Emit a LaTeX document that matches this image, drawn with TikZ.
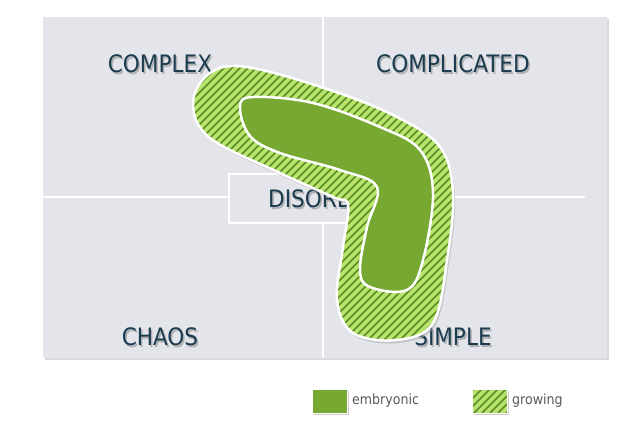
\documentclass[tikz,border=0pt]{standalone}
\usepackage{fontspec}
\setmainfont{DejaVu Sans Condensed}
\begin{document}
\begin{tikzpicture}[x=1pt,y=-1pt,
  lbl/.style={text=txt,font=\fontsize{24}{24}\selectfont,inner sep=0},
  lblsh/.style={text=black!45,font=\fontsize{24}{24}\selectfont,inner sep=0,opacity=0.6},
  leg/.style={text=black!65,font=\fontsize{14}{14}\selectfont,anchor=west,inner sep=0}]
\definecolor{panel}{HTML}{E3E5EA}
\definecolor{txt}{HTML}{1B3B4F}
\definecolor{gdark}{HTML}{76A832}
\definecolor{glight}{HTML}{B8E46C}
\definecolor{gstripe}{HTML}{5C8C28}
\useasboundingbox (0,0) rectangle (631,424);
\fill[white] (0,0) rectangle (631,424);
% panel
\fill[black!15] (45,19) rectangle (609,360);
\fill[panel] (43,17) rectangle (607,358);
\draw[white,line width=2] (323,17) -- (323,358);
\draw[white,line width=2] (43,197) -- (585,197);
\node[draw=white,line width=2,fill=panel,minimum width=122,minimum height=49,anchor=north west] (dis) at (228,173) {};
% labels
\foreach \n/\t/\x/\y in {cx/COMPLEX/160/64, cd/COMPLICATED/453/64, ch/CHAOS/160/337, si/SIMPLE/453/337}{
  \node[lblsh] at (\x+1.5,\y+1.5) {\t};
  \node[lbl] (\n) at (\x,\y) {\t};
}
\node[lblsh,anchor=west] at (269.5,200.5) {DISORDER};
\node[lbl,anchor=west] (do) at (268,199) {DISORDER};
% boomerang outer
\def\outerpath{plot[smooth cycle,tension=0.6] coordinates {(193,103) (210,73) (247,67) (330,90) (397,117) (440,147) (453,193) (447,260) (433,323) (397,340) (353,333) (337,300) (343,247) (348,205) (333,197) (280,173) (210,138)}}
\fill[black!35,opacity=0.5,shift={(2,3)}] \outerpath;
\fill[white] \outerpath;
\begin{scope}
\clip \outerpath;
\fill[glight] (180,50) rectangle (470,360);
\foreach \k in {-400,-392,...,300}{
  \draw[gstripe,line width=1.7] (180+\k,360) -- (480+\k,60);
}
\end{scope}
\draw[white,line width=2.5] \outerpath;
% inner
\def\innerpath{plot[smooth cycle,tension=0.6] coordinates {(240,107) (253,97) (313,103) (380,127) (420,150) (433,193) (423,260) (407,290) (370,287) (360,270) (367,227) (377,187) (340,170) (280,153) (250,136)}}
\fill[gdark,draw=white,line width=2.5] \innerpath;
% legend
\fill[black!20] (314,391) rectangle (349,415);
\node[fill=gdark,draw=white,line width=1,minimum width=35,minimum height=24,anchor=north west,inner sep=0] (e) at (312,389) {};
\node[leg] (et) at (352,401) {embryonic};
\fill[black!20] (474,391) rectangle (509,415);
\begin{scope}
\clip (472,389) rectangle (507,413);
\fill[glight] (472,389) rectangle (507,413);
\foreach \k in {-30,-22,...,40}{\draw[gstripe,line width=1.7] (472+\k,413) -- (496+\k,389);}
\end{scope}
\node[draw=white,line width=1,minimum width=35,minimum height=24,anchor=north west,inner sep=0] (g) at (472,389) {};
\node[leg] (gt) at (512,401) {growing};
\end{tikzpicture}
\end{document}
